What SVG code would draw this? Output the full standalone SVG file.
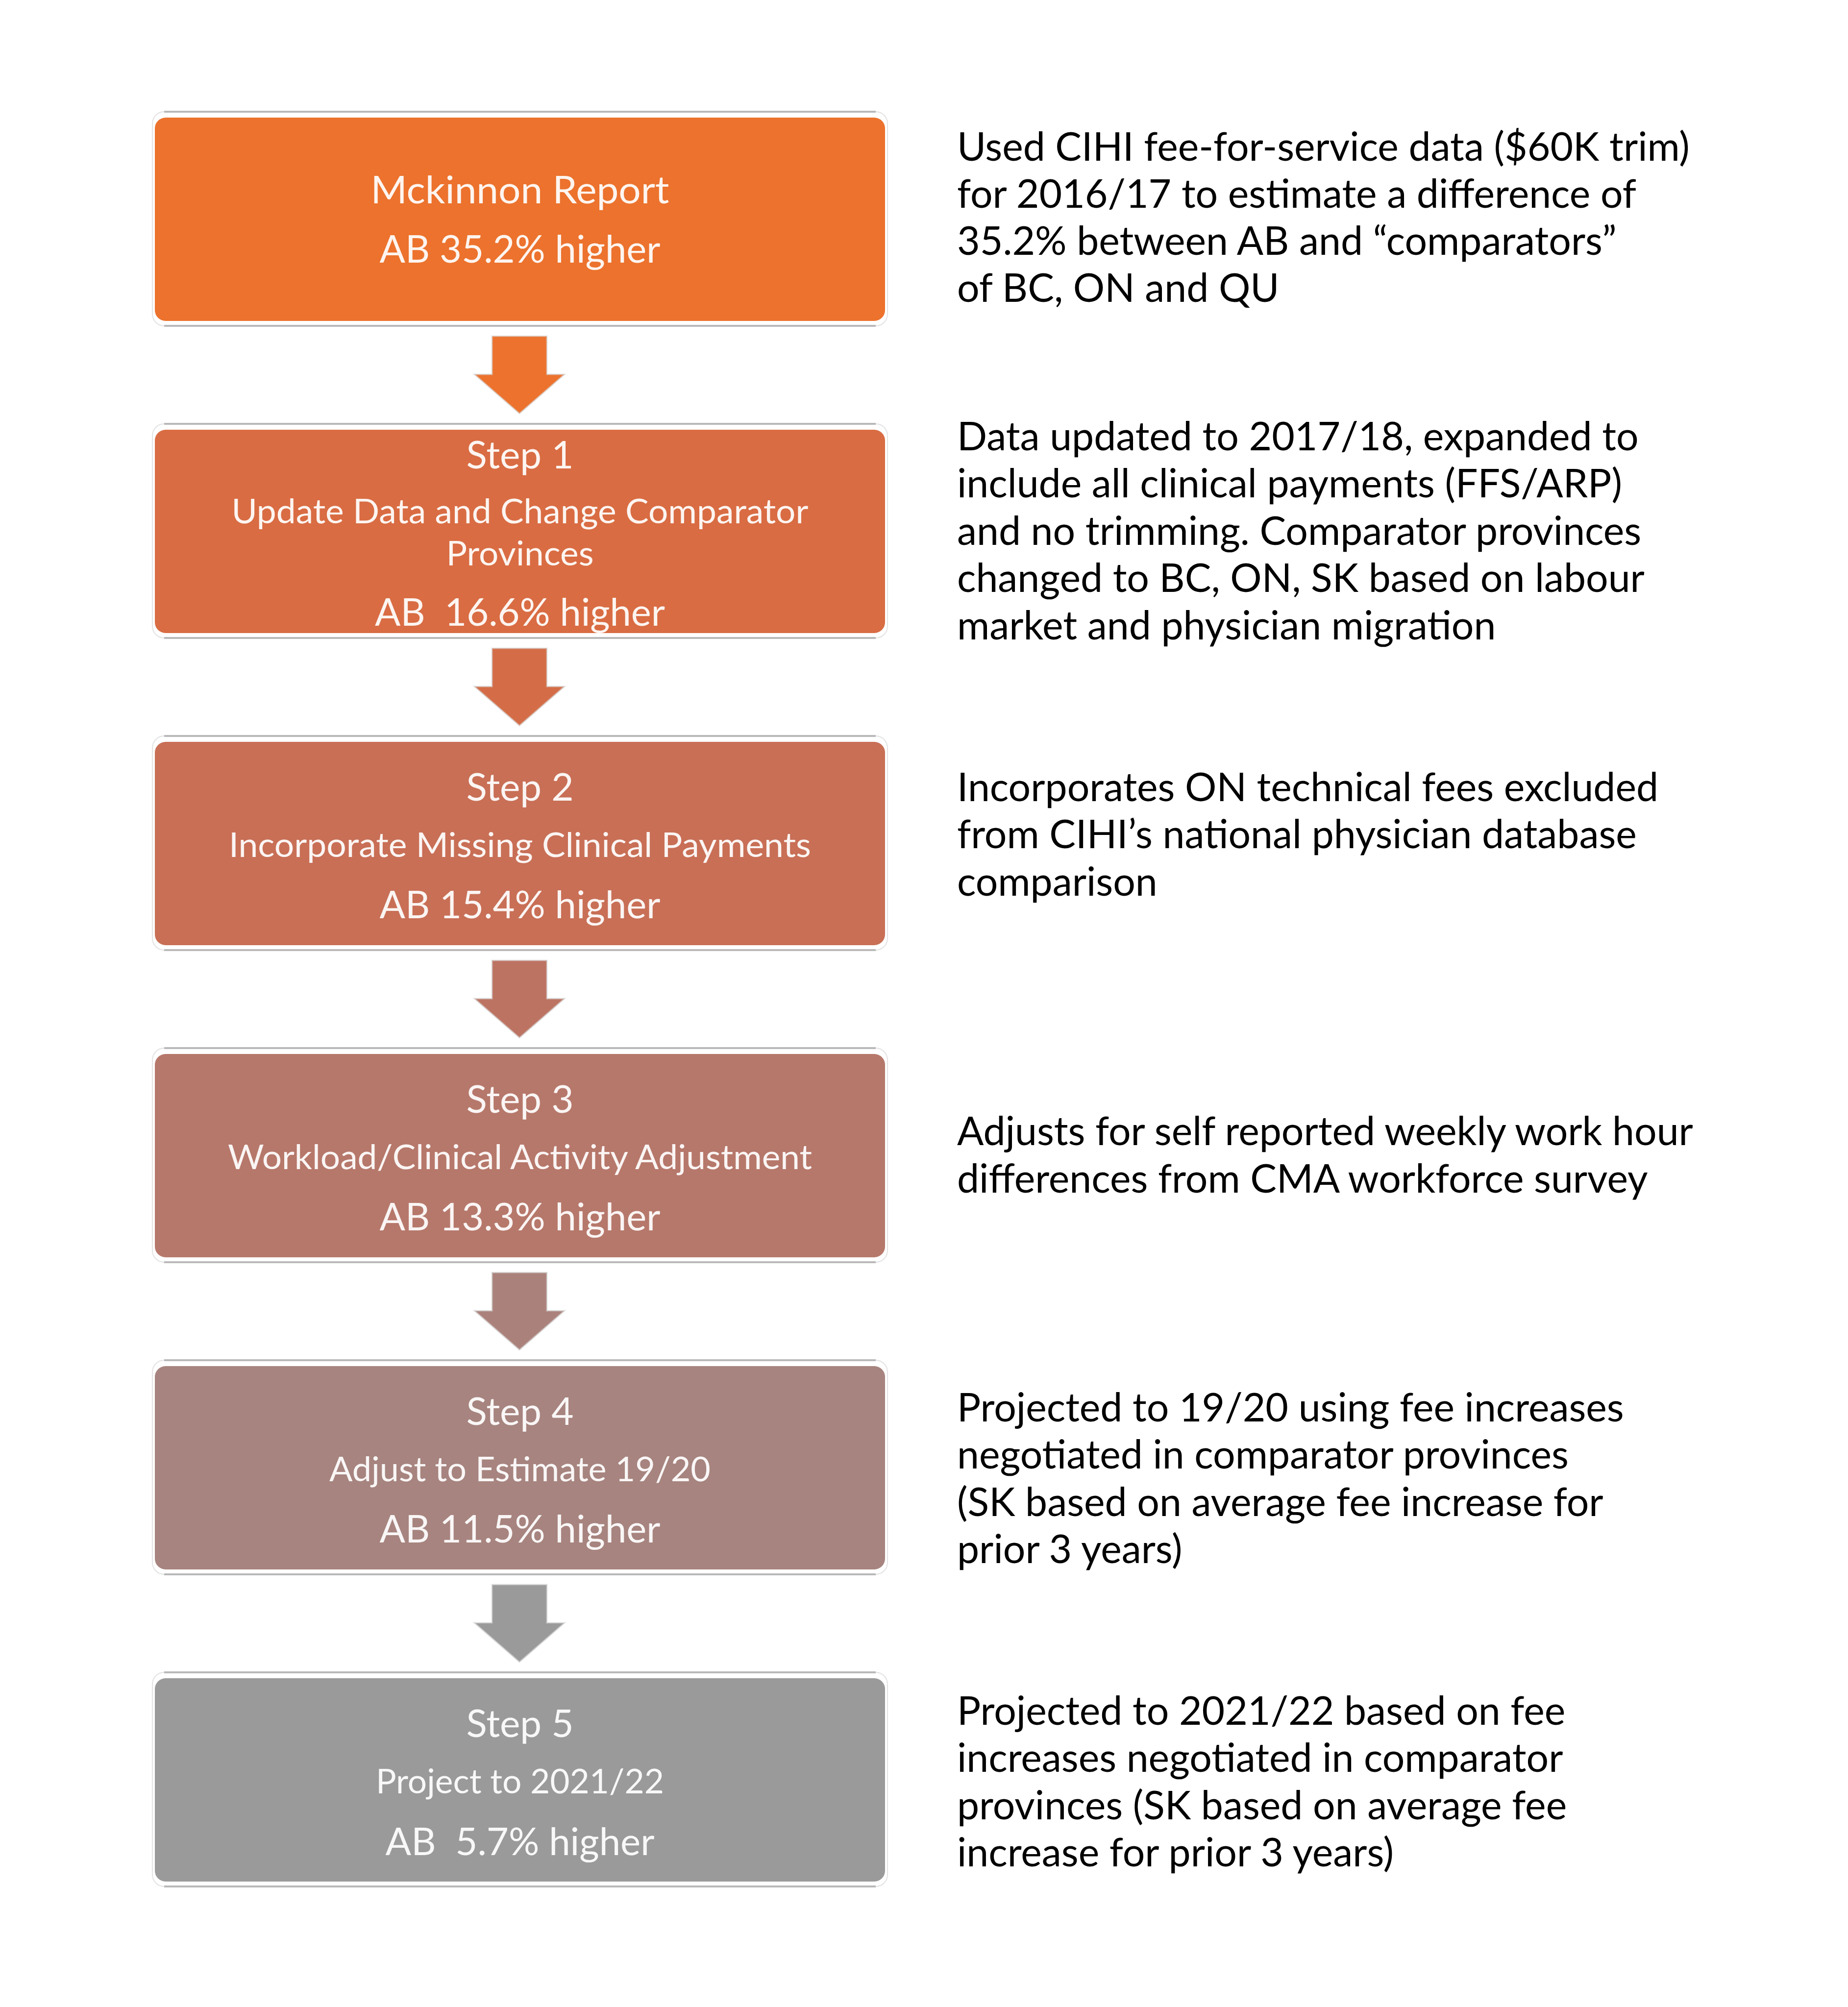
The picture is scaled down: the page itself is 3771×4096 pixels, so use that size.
<svg xmlns="http://www.w3.org/2000/svg" width="3771" height="4096" viewBox="0 0 3771 4096">
<style>
.bt{font-family:Lato,"Open Sans","Liberation Sans",sans-serif;fill:#ffffff;fill-opacity:0.93;text-anchor:middle}
.t{font-size:77px}
.d{font-size:69px}
.note{font-family:Lato,"Noto Sans","Liberation Sans",sans-serif;font-size:80.5px;fill:#000000}
.frame{fill:#ffffff;stroke:#e2e2e2;stroke-width:2}
.fline{stroke:#b9b9b9;stroke-width:4}
.arrow{stroke:#d6d6d6;stroke-width:3;stroke-opacity:0.6}
</style>
<rect x="0" y="0" width="3771" height="4096" fill="#ffffff"/>

<g id="node-0">
<rect class="frame" x="311" y="228" width="1500" height="437" rx="24"/>
<line class="fline" x1="335" y1="228" x2="1787" y2="228"/>
<line class="fline" x1="335" y1="665" x2="1787" y2="665"/>
<rect x="316" y="240" width="1490" height="415" rx="22" fill="#EC722D"/>
<text class="bt t" x="1061" y="415" textLength="609" lengthAdjust="spacingAndGlyphs">Mckinnon Report</text>
<text class="bt t" x="1061" y="536" textLength="573" lengthAdjust="spacingAndGlyphs">AB 35.2% higher</text>
</g>

<g id="node-1">
<rect class="frame" x="311" y="865" width="1500" height="437" rx="24"/>
<line class="fline" x1="335" y1="865" x2="1787" y2="865"/>
<line class="fline" x1="335" y1="1302" x2="1787" y2="1302"/>
<rect x="316" y="877" width="1490" height="415" rx="22" fill="#D96C43"/>
<text class="bt t" x="1061" y="956" textLength="219" lengthAdjust="spacingAndGlyphs">Step 1</text>
<text class="bt d" x="1061" y="1068" textLength="1177" lengthAdjust="spacingAndGlyphs">Update Data and Change Comparator</text>
<text class="bt d" x="1061" y="1154" textLength="301" lengthAdjust="spacingAndGlyphs">Provinces</text>
<text class="bt t" x="1061" y="1277" textLength="592" lengthAdjust="spacingAndGlyphs" xml:space="preserve">AB  16.6% higher</text>
</g>

<g id="node-2">
<rect class="frame" x="311" y="1502" width="1500" height="437" rx="24"/>
<line class="fline" x1="335" y1="1502" x2="1787" y2="1502"/>
<line class="fline" x1="335" y1="1939" x2="1787" y2="1939"/>
<rect x="316" y="1514" width="1490" height="415" rx="22" fill="#C86F56"/>
<text class="bt t" x="1061" y="1634" textLength="219" lengthAdjust="spacingAndGlyphs">Step 2</text>
<text class="bt d" x="1061" y="1749" textLength="1188" lengthAdjust="spacingAndGlyphs">Incorporate Missing Clinical Payments</text>
<text class="bt t" x="1061" y="1874" textLength="573" lengthAdjust="spacingAndGlyphs">AB 15.4% higher</text>
</g>

<g id="node-3">
<rect class="frame" x="311" y="2139" width="1500" height="437" rx="24"/>
<line class="fline" x1="335" y1="2139" x2="1787" y2="2139"/>
<line class="fline" x1="335" y1="2576" x2="1787" y2="2576"/>
<rect x="316" y="2151" width="1490" height="415" rx="22" fill="#B6786B"/>
<text class="bt t" x="1061" y="2271" textLength="219" lengthAdjust="spacingAndGlyphs">Step 3</text>
<text class="bt d" x="1061" y="2386" textLength="1192" lengthAdjust="spacingAndGlyphs">Workload/Clinical Activity Adjustment</text>
<text class="bt t" x="1061" y="2511" textLength="573" lengthAdjust="spacingAndGlyphs">AB 13.3% higher</text>
</g>

<g id="node-4">
<rect class="frame" x="311" y="2776" width="1500" height="437" rx="24"/>
<line class="fline" x1="335" y1="2776" x2="1787" y2="2776"/>
<line class="fline" x1="335" y1="3213" x2="1787" y2="3213"/>
<rect x="316" y="2788" width="1490" height="415" rx="22" fill="#A7847F"/>
<text class="bt t" x="1061" y="2908" textLength="219" lengthAdjust="spacingAndGlyphs">Step 4</text>
<text class="bt d" x="1061" y="3023" textLength="778" lengthAdjust="spacingAndGlyphs">Adjust to Estimate 19/20</text>
<text class="bt t" x="1061" y="3148" textLength="573" lengthAdjust="spacingAndGlyphs">AB 11.5% higher</text>
</g>

<g id="node-5">
<rect class="frame" x="311" y="3413" width="1500" height="437" rx="24"/>
<line class="fline" x1="335" y1="3413" x2="1787" y2="3413"/>
<line class="fline" x1="335" y1="3850" x2="1787" y2="3850"/>
<rect x="316" y="3425" width="1490" height="415" rx="22" fill="#9A9A9A"/>
<text class="bt t" x="1061" y="3545" textLength="219" lengthAdjust="spacingAndGlyphs">Step 5</text>
<text class="bt d" x="1061" y="3660" textLength="588" lengthAdjust="spacingAndGlyphs">Project to 2021/22</text>
<text class="bt t" x="1061" y="3786" textLength="549" lengthAdjust="spacingAndGlyphs" xml:space="preserve">AB  5.7% higher</text>
</g>

<g id="connectors">
<polygon class="arrow" fill="#EC722D" points="1004,686 1116,686 1116,764 1152,764 1060,844 968,764 1004,764"/>
<polygon class="arrow" fill="#D46D47" points="1004,1323 1116,1323 1116,1401 1152,1401 1060,1481 968,1401 1004,1401"/>
<polygon class="arrow" fill="#BD7362" points="1004,1960 1116,1960 1116,2038 1152,2038 1060,2118 968,2038 1004,2038"/>
<polygon class="arrow" fill="#AB827B" points="1004,2597 1116,2597 1116,2675 1152,2675 1060,2755 968,2675 1004,2675"/>
<polygon class="arrow" fill="#9A9A9A" points="1004,3234 1116,3234 1116,3312 1152,3312 1060,3392 968,3312 1004,3312"/>
</g>

<g id="note-0" class="note">
<text x="1953" y="328">Used CIHI fee-for-service data ($60K trim)</text>
<text x="1953" y="424">for 2016/17 to estimate a difference of</text>
<text x="1953" y="520">35.2% between AB and &#8220;comparators&#8221;</text>
<text x="1953" y="616">of BC, ON and QU</text>
</g>

<g id="note-1" class="note">
<text x="1953" y="919">Data updated to 2017/18, expanded to</text>
<text x="1953" y="1015">include all clinical payments (FFS/ARP)</text>
<text x="1953" y="1112">and no trimming. Comparator provinces</text>
<text x="1953" y="1208">changed to BC, ON, SK based on labour</text>
<text x="1953" y="1305">market and physician migration</text>
</g>

<g id="note-2" class="note">
<text x="1953" y="1635">Incorporates ON technical fees excluded</text>
<text x="1953" y="1731">from CIHI&#8217;s national physician database</text>
<text x="1953" y="1828">comparison</text>
</g>

<g id="note-3" class="note">
<text x="1953" y="2337">Adjusts for self reported weekly work hour</text>
<text x="1953" y="2434">differences from CMA workforce survey</text>
</g>

<g id="note-4" class="note">
<text x="1953" y="2901">Projected to 19/20 using fee increases</text>
<text x="1953" y="2997">negotiated in comparator provinces</text>
<text x="1953" y="3094">(SK based on average fee increase for</text>
<text x="1953" y="3190">prior 3 years)</text>
</g>

<g id="note-5" class="note">
<text x="1953" y="3520">Projected to 2021/22 based on fee</text>
<text x="1953" y="3616">increases negotiated in comparator</text>
<text x="1953" y="3713">provinces (SK based on average fee</text>
<text x="1953" y="3809">increase for prior 3 years)</text>
</g>
</svg>
